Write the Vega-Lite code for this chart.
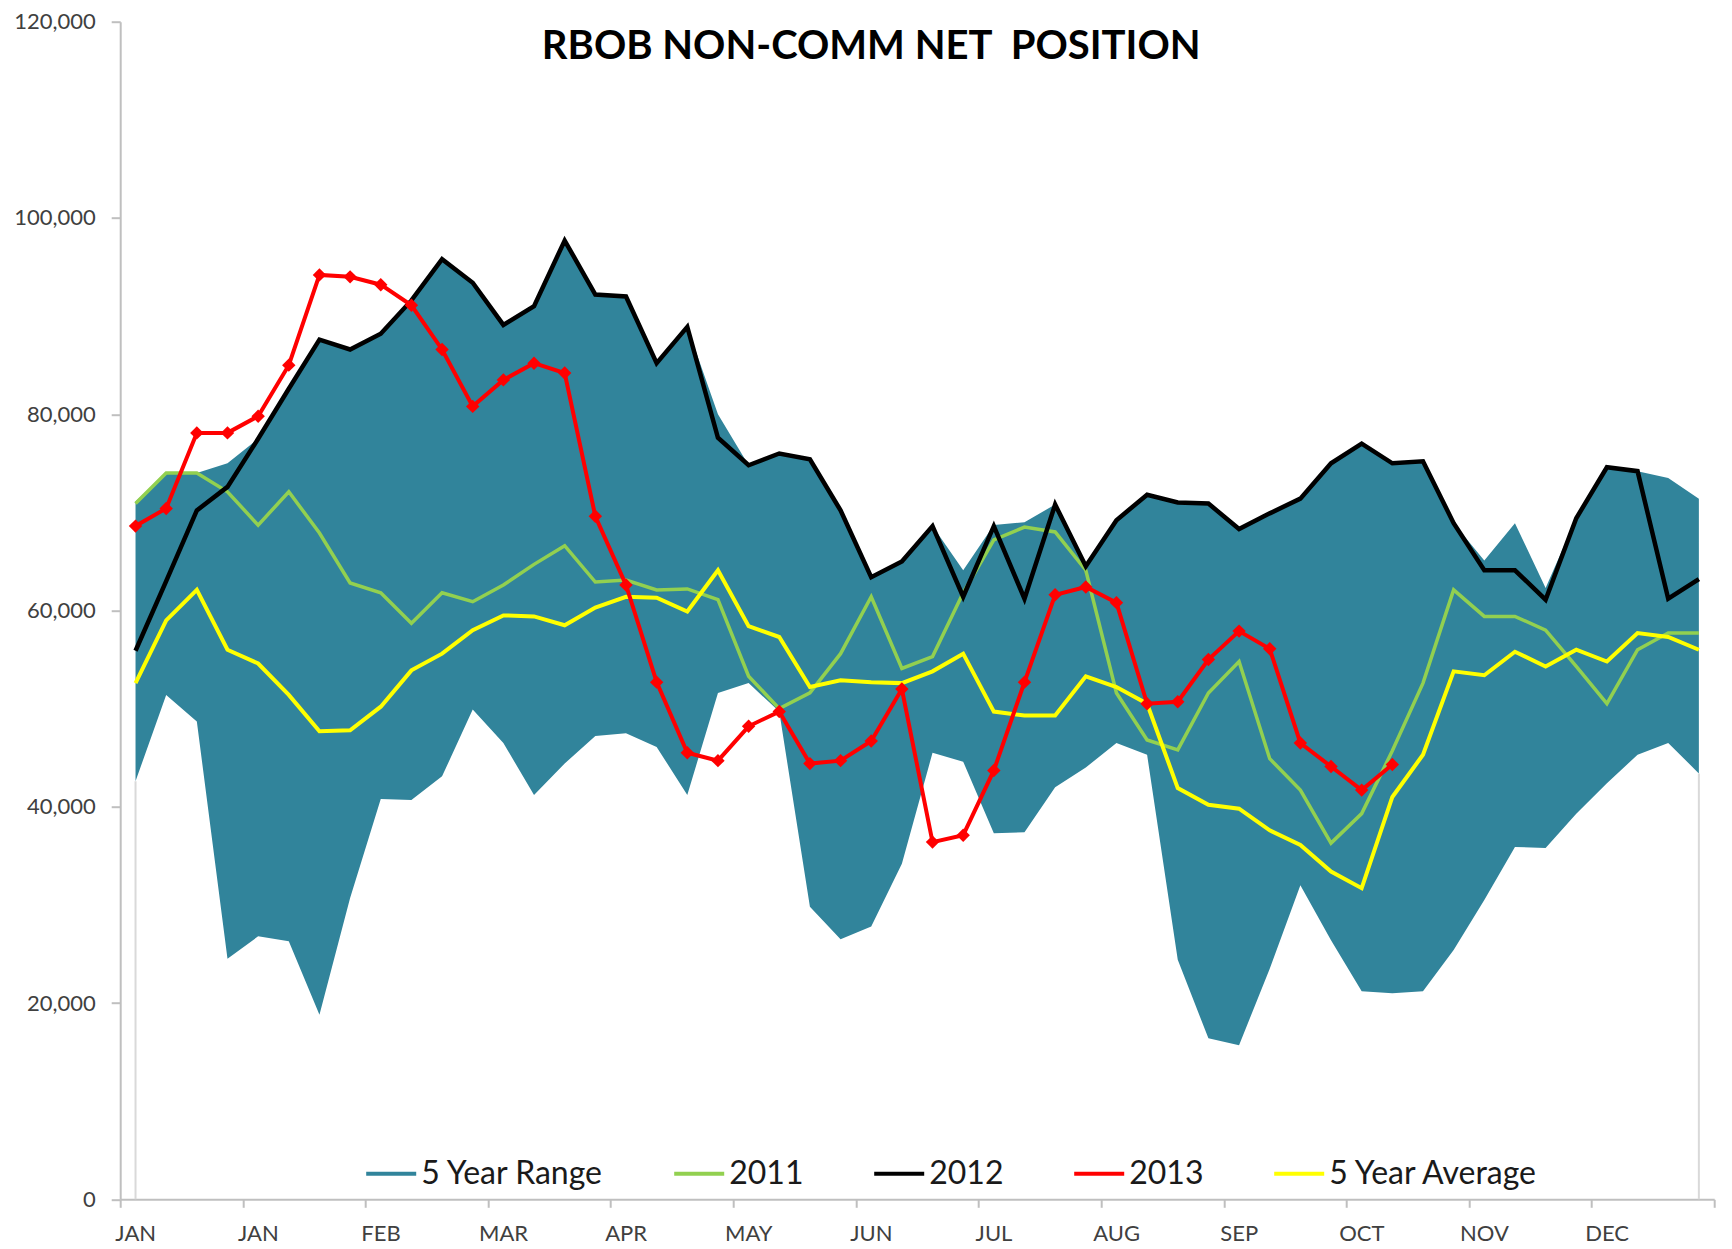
{
  "$schema": "https://vega.github.io/schema/vega-lite/v6.json",
  "width": 1594,
  "height": 1177.6,
  "autosize": "none",
  "padding": {"left": 120.2, "top": 21.7, "right": 17.8, "bottom": 49.7},
  "background": "white",
  "title": {
    "text": "RBOB NON-COMM NET\u00a0 POSITION",
    "font": "Lato",
    "fontSize": 40,
    "fontWeight": "bold",
    "color": "#000000",
    "anchor": "middle",
    "frame": "group",
    "baseline": "middle",
    "offset": 0,
    "dx": -46,
    "dy": 76
  },
  "config": {
    "view": {"stroke": null},
    "font": "Lato"
  },
  "data": {
    "values": [
      {"week": 1, "lo": 42600, "hi": 71100, "s2011": 70900, "s2012": 55900, "s2013": 68600, "avg": 52600},
      {"week": 2, "lo": 51400, "hi": 74000, "s2011": 74000, "s2012": 63000, "s2013": 70400, "avg": 59000},
      {"week": 3, "lo": 48700, "hi": 74000, "s2011": 74000, "s2012": 70200, "s2013": 78100, "avg": 62100},
      {"week": 4, "lo": 24500, "hi": 75000, "s2011": 72100, "s2012": 72600, "s2013": 78100, "avg": 56000},
      {"week": 5, "lo": 26800, "hi": 77500, "s2011": 68700, "s2012": 77500, "s2013": 79800, "avg": 54600},
      {"week": 6, "lo": 26300, "hi": 82600, "s2011": 72100, "s2012": 82600, "s2013": 85000, "avg": 51400},
      {"week": 7, "lo": 18800, "hi": 87600, "s2011": 67900, "s2012": 87600, "s2013": 94200, "avg": 47700},
      {"week": 8, "lo": 30700, "hi": 86600, "s2011": 62800, "s2012": 86600, "s2013": 94000, "avg": 47800},
      {"week": 9, "lo": 40800, "hi": 88200, "s2011": 61800, "s2012": 88200, "s2013": 93200, "avg": 50200},
      {"week": 10, "lo": 40700, "hi": 91600, "s2011": 58700, "s2012": 91600, "s2013": 91100, "avg": 53900},
      {"week": 11, "lo": 43100, "hi": 95800, "s2011": 61800, "s2012": 95800, "s2013": 86600, "avg": 55600},
      {"week": 12, "lo": 49900, "hi": 93400, "s2011": 60900, "s2012": 93400, "s2013": 80800, "avg": 58000},
      {"week": 13, "lo": 46500, "hi": 89100, "s2011": 62600, "s2012": 89100, "s2013": 83500, "avg": 59500},
      {"week": 14, "lo": 41200, "hi": 91000, "s2011": 64700, "s2012": 91000, "s2013": 85200, "avg": 59400},
      {"week": 15, "lo": 44400, "hi": 97700, "s2011": 66600, "s2012": 97700, "s2013": 84200, "avg": 58500},
      {"week": 16, "lo": 47200, "hi": 92200, "s2011": 62900, "s2012": 92200, "s2013": 69600, "avg": 60300},
      {"week": 17, "lo": 47500, "hi": 92000, "s2011": 63100, "s2012": 92000, "s2013": 62600, "avg": 61400},
      {"week": 18, "lo": 46100, "hi": 85200, "s2011": 62100, "s2012": 85200, "s2013": 52700, "avg": 61300},
      {"week": 19, "lo": 41200, "hi": 88900, "s2011": 62200, "s2012": 88900, "s2013": 45500, "avg": 59900},
      {"week": 20, "lo": 51600, "hi": 80000, "s2011": 61100, "s2012": 77600, "s2013": 44700, "avg": 64100},
      {"week": 21, "lo": 52600, "hi": 74800, "s2011": 53300, "s2012": 74800, "s2013": 48200, "avg": 58400},
      {"week": 22, "lo": 49700, "hi": 76000, "s2011": 50000, "s2012": 76000, "s2013": 49700, "avg": 57300},
      {"week": 23, "lo": 29800, "hi": 75400, "s2011": 51600, "s2012": 75400, "s2013": 44400, "avg": 52200},
      {"week": 24, "lo": 26500, "hi": 70200, "s2011": 55600, "s2012": 70200, "s2013": 44700, "avg": 52900},
      {"week": 25, "lo": 27800, "hi": 63400, "s2011": 61400, "s2012": 63400, "s2013": 46700, "avg": 52700},
      {"week": 26, "lo": 34200, "hi": 65000, "s2011": 54100, "s2012": 65000, "s2013": 52000, "avg": 52600},
      {"week": 27, "lo": 45500, "hi": 68600, "s2011": 55300, "s2012": 68600, "s2013": 36400, "avg": 53800},
      {"week": 28, "lo": 44600, "hi": 64100, "s2011": 61800, "s2012": 61400, "s2013": 37100, "avg": 55600},
      {"week": 29, "lo": 37300, "hi": 68700, "s2011": 67200, "s2012": 68600, "s2013": 43700, "avg": 49700},
      {"week": 30, "lo": 37400, "hi": 69000, "s2011": 68500, "s2012": 61200, "s2013": 52700, "avg": 49300},
      {"week": 31, "lo": 42000, "hi": 70800, "s2011": 68000, "s2012": 70800, "s2013": 61600, "avg": 49300},
      {"week": 32, "lo": 44000, "hi": 64600, "s2011": 64100, "s2012": 64500, "s2013": 62400, "avg": 53300},
      {"week": 33, "lo": 46500, "hi": 69200, "s2011": 51600, "s2012": 69200, "s2013": 60800, "avg": 52200},
      {"week": 34, "lo": 45300, "hi": 71800, "s2011": 46800, "s2012": 71800, "s2013": 50500, "avg": 50500},
      {"week": 35, "lo": 24400, "hi": 71000, "s2011": 45800, "s2012": 71000, "s2013": 50700, "avg": 41900},
      {"week": 36, "lo": 16400, "hi": 70900, "s2011": 51600, "s2012": 70900, "s2013": 55000, "avg": 40200},
      {"week": 37, "lo": 15700, "hi": 68300, "s2011": 54800, "s2012": 68300, "s2013": 57900, "avg": 39800},
      {"week": 38, "lo": 23500, "hi": 69900, "s2011": 44900, "s2012": 69900, "s2013": 56100, "avg": 37600},
      {"week": 39, "lo": 32000, "hi": 71400, "s2011": 41700, "s2012": 71400, "s2013": 46500, "avg": 36100},
      {"week": 40, "lo": 26400, "hi": 75000, "s2011": 36300, "s2012": 75000, "s2013": 44100, "avg": 33400},
      {"week": 41, "lo": 21200, "hi": 77000, "s2011": 39300, "s2012": 77000, "s2013": 41700, "avg": 31700},
      {"week": 42, "lo": 21000, "hi": 75000, "s2011": 45700, "s2012": 75000, "s2013": 44300, "avg": 41000},
      {"week": 43, "lo": 21200, "hi": 75200, "s2011": 52600, "s2012": 75200, "s2013": null, "avg": 45300},
      {"week": 44, "lo": 25400, "hi": 68900, "s2011": 62100, "s2012": 68900, "s2013": null, "avg": 53800},
      {"week": 45, "lo": 30500, "hi": 65100, "s2011": 59400, "s2012": 64100, "s2013": null, "avg": 53400},
      {"week": 46, "lo": 35900, "hi": 68900, "s2011": 59400, "s2012": 64100, "s2013": null, "avg": 55800},
      {"week": 47, "lo": 35800, "hi": 62300, "s2011": 58000, "s2012": 61100, "s2013": null, "avg": 54300},
      {"week": 48, "lo": 39300, "hi": 69400, "s2011": 54300, "s2012": 69400, "s2013": null, "avg": 56000},
      {"week": 49, "lo": 42400, "hi": 74600, "s2011": 50500, "s2012": 74600, "s2013": null, "avg": 54800},
      {"week": 50, "lo": 45300, "hi": 74200, "s2011": 56000, "s2012": 74200, "s2013": null, "avg": 57700},
      {"week": 51, "lo": 46500, "hi": 73500, "s2011": 57700, "s2012": 61200, "s2013": null, "avg": 57300},
      {"week": 52, "lo": 43400, "hi": 71400, "s2011": 57700, "s2012": 63200, "s2013": null, "avg": 56000}
    ]
  },
  "layer": [
    {
      "mark": {"type": "area", "interpolate": "linear", "opacity": 1},
      "encoding": {
        "x": {
          "field": "week",
          "type": "quantitative",
          "title": null,
          "scale": {"domain": [0.5, 52.5], "nice": false, "zero": false},
          "axis": {
            "values": [0.5, 4.5, 8.5, 12.5, 16.5, 20.5, 24.5, 28.5, 32.5, 36.5, 40.5, 44.5, 48.5, 52.5],
            "labelExpr": "['JAN','JAN','FEB','MAR','APR','MAY','JUN','JUL','AUG','SEP','OCT','NOV','DEC',''][round((datum.value-0.5)/4)]",
            "labelOffset": 15,
            "labelFlush": false,
            "labelOverlap": false,
            "labelFont": "Lato",
            "labelFontSize": 22,
            "labelColor": "#404040",
            "labelPadding": 16,
            "domainColor": "#BFBFBF",
            "domainWidth": 2,
            "tickColor": "#BFBFBF",
            "tickWidth": 2,
            "tickSize": 8,
            "grid": false
          }
        },
        "y": {
          "field": "hi",
          "type": "quantitative",
          "title": null,
          "scale": {"domain": [0, 120000], "nice": false, "zero": true},
          "axis": {
            "values": [0, 20000, 40000, 60000, 80000, 100000, 120000],
            "format": ",.0f",
            "labelFont": "Lato",
            "labelFontSize": 22,
            "labelColor": "#404040",
            "labelPadding": 16,
            "domainColor": "#BFBFBF",
            "domainWidth": 2,
            "tickColor": "#BFBFBF",
            "tickWidth": 2,
            "tickSize": 9,
            "grid": false
          }
        },
        "y2": {"field": "lo"},
        "color": {
          "datum": "5 Year Range",
          "type": "nominal",
          "scale": {
            "domain": ["5 Year Range", "2011", "2012", "2013", "5 Year Average"],
            "range": ["#31849B", "#92D050", "#000000", "#FF0000", "#FFFF00"]
          },
          "legend": {
            "title": null,
            "orient": "none",
            "legendX": 244,
            "legendY": 1125,
            "direction": "horizontal",
            "columns": 5,
            "columnPadding": 62,
            "padding": 0,
            "labelFont": "Lato",
            "labelFontSize": 32,
            "labelColor": "#1a1a1a",
            "labelOffset": 3,
            "labelLimit": 400,
            "symbolSize": 2500,
            "symbolStrokeWidth": 4,
            "symbolType": "stroke",
            "encode": {
              "symbols": {
                "update": {
                  "shape": {"signal": "datum.value === '5 Year Range' ? 'M-1,-0.36H1V0.36H-1Z' : (datum.value === '2013' ? 'M-1,0H1M-0.24,0L0,-0.24L0.24,0L0,0.24Z' : 'stroke')"},
                  "fill": {"signal": "datum.value === '5 Year Range' ? '#31849B' : (datum.value === '2013' ? '#FF0000' : 'transparent')"},
                  "stroke": {"signal": "datum.value === '5 Year Range' ? 'transparent' : (datum.value === '2011' ? '#92D050' : (datum.value === '2012' ? '#000000' : (datum.value === '2013' ? '#FF0000' : '#FFFF00')))"},
                  "strokeWidth": {"value": 4},
                  "size": {"value": 2500},
                  "opacity": {"value": 1},
                  "fillOpacity": {"value": 1},
                  "strokeOpacity": {"value": 1}
                }
              }
            }
          }
        }
      }
    },
    {
      "transform": [{"filter": "datum.week == 1 || datum.week == 52"}],
      "mark": {"type": "rule", "color": "#D9D9D9", "strokeWidth": 2},
      "encoding": {
        "x": {"field": "week", "type": "quantitative", "title": null},
        "y": {"field": "lo", "type": "quantitative", "title": null},
        "y2": {"datum": 0}
      }
    },
    {
      "mark": {"type": "line", "strokeWidth": 3.5},
      "encoding": {
        "x": {"field": "week", "type": "quantitative", "title": null},
        "y": {"field": "s2011", "type": "quantitative", "title": null},
        "color": {"datum": "2011", "type": "nominal"}
      }
    },
    {
      "mark": {"type": "line", "strokeWidth": 4.5},
      "encoding": {
        "x": {"field": "week", "type": "quantitative", "title": null},
        "y": {"field": "s2012", "type": "quantitative", "title": null},
        "color": {"datum": "2012", "type": "nominal"}
      }
    },
    {
      "mark": {"type": "line", "strokeWidth": 4},
      "encoding": {
        "x": {"field": "week", "type": "quantitative", "title": null},
        "y": {"field": "avg", "type": "quantitative", "title": null},
        "color": {"datum": "5 Year Average", "type": "nominal"}
      }
    },
    {
      "mark": {"type": "line", "strokeWidth": 4},
      "encoding": {
        "x": {"field": "week", "type": "quantitative", "title": null},
        "y": {"field": "s2013", "type": "quantitative", "title": null},
        "color": {"datum": "2013", "type": "nominal"}
      }
    },
    {
      "mark": {"type": "point", "shape": "diamond", "filled": true, "size": 180, "color": "#FF0000", "opacity": 1},
      "encoding": {
        "x": {"field": "week", "type": "quantitative", "title": null},
        "y": {"field": "s2013", "type": "quantitative", "title": null}
      }
    }
  ]
}
